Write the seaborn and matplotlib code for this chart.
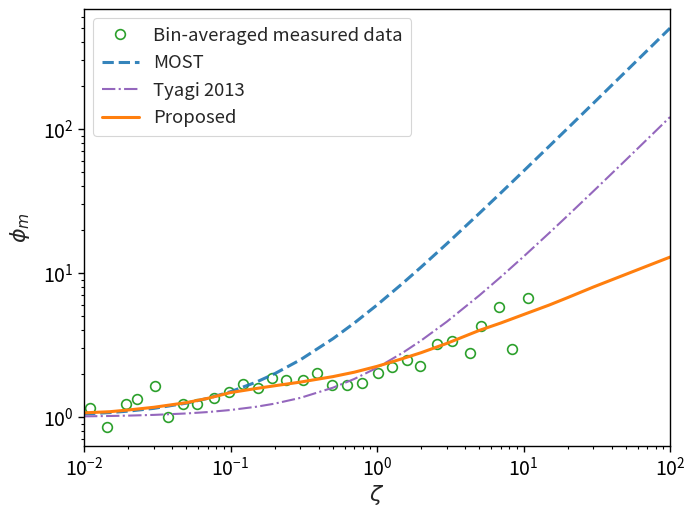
import numpy as np
import pandas as pd
import seaborn as sns
import matplotlib
matplotlib.use("Agg")
import matplotlib.pyplot as plt

# Bin-averaged measurements of the dimensionless shear phi_m against stability zeta
zeta_obs = [0.0110, 0.0144, 0.0193, 0.0229, 0.0307, 0.0374, 0.0472, 0.0593, 0.0776,
            0.0973, 0.122, 0.155, 0.193, 0.239, 0.311, 0.389, 0.493, 0.624, 0.787,
            1.01, 1.26, 1.61, 1.97, 2.55, 3.26, 4.34, 5.13, 6.77, 8.36, 10.7]
phi_obs = [1.15, 0.86, 1.23, 1.34, 1.64, 1.00, 1.23, 1.24, 1.36,
           1.50, 1.69, 1.58, 1.88, 1.82, 1.82, 2.02, 1.66, 1.66, 1.73,
           2.03, 2.24, 2.48, 2.28, 3.21, 3.35, 2.79, 4.29, 5.81, 2.96, 6.75]

# Model curves sampled along zeta
zeta_model = [0.01, 0.015, 0.02, 0.03, 0.05, 0.07, 0.1, 0.15, 0.2, 0.3, 0.5, 0.7,
              1, 1.5, 2, 3, 5, 7, 10, 15, 20, 30, 50, 70, 100]
phi_most = [1.05, 1.075, 1.1, 1.15, 1.25, 1.35, 1.5, 1.75, 2.0, 2.5, 3.5, 4.5,
            6, 8.5, 11, 16, 26, 36, 51, 76, 101, 151, 251, 351, 501]
phi_tyagi = [1.012, 1.018, 1.024, 1.036, 1.06, 1.084, 1.12, 1.18, 1.24, 1.36, 1.6, 1.84,
             2.2, 2.8, 3.4, 4.6, 7.0, 9.4, 13, 19, 25, 37, 61, 85, 121]
phi_proposed = [1.07, 1.09, 1.12, 1.17, 1.26, 1.35, 1.48, 1.58, 1.65, 1.75, 1.91, 2.05,
                2.25, 2.55, 2.8, 3.25, 4.0, 4.5, 5.15, 6.0, 6.75, 8.0, 9.8, 11.2, 12.9]

labels = ["Bin-averaged measured data", "MOST", "Tyagi 2013", "Proposed"]

sns.set_theme(style="ticks")
plt.rcParams["font.family"] = ["Noto Sans CJK SC", "DejaVu Sans"]
plt.rcParams["mathtext.fontset"] = "dejavusans"
plt.rcParams["axes.unicode_minus"] = False

fig, ax = plt.subplots(figsize=(6.87, 5.07), dpi=100)
fig.subplots_adjust(left=0.1223, right=0.9753, top=0.9822, bottom=0.1203)

obs = pd.DataFrame({"zeta": zeta_obs, "phi": phi_obs})
mod = pd.DataFrame({"zeta": zeta_model, "most": phi_most,
                    "tyagi": phi_tyagi, "proposed": phi_proposed})

sns.lineplot(data=obs, x="zeta", y="phi", ax=ax, linestyle="none", marker="o",
             markersize=7, markerfacecolor="none", markeredgecolor="#2ca02c",
             markeredgewidth=1.2, color="#2ca02c", label=labels[0])
sns.lineplot(data=mod, x="zeta", y="most", ax=ax, color="#1f77b4", alpha=0.9,
             linestyle="--", linewidth=2.2, label=labels[1])
sns.lineplot(data=mod, x="zeta", y="tyagi", ax=ax, color="#9467bd",
             linestyle="-.", linewidth=1.5, label=labels[2])
sns.lineplot(data=mod, x="zeta", y="proposed", ax=ax, color="#ff7f0e",
             linestyle="-", linewidth=2.2, label=labels[3])

ax.set_xscale("log")
ax.set_yscale("log")
ax.set_xlim(1e-2, 1e2)
ax.set_ylim(0.63, 680)

for s in ax.spines.values():
    s.set_visible(True)
    s.set_color("black")
    s.set_linewidth(1.0)

ax.tick_params(axis="both", which="major", labelsize=14, length=4, width=1,
               color="black", labelcolor="black", direction="out")
ax.tick_params(axis="both", which="minor", length=2.5, width=0.8, color="black")

ax.set_xlabel(r"$\zeta$", fontsize=16, labelpad=2)
ax.set_ylabel(r"$\phi_m$", fontsize=16, labelpad=8)

leg = ax.legend(loc="upper left", fontsize=13.3, frameon=True, labelspacing=0.52,
                handlelength=2.0, borderpad=0.45)
leg.get_frame().set_edgecolor("#cccccc")
leg.get_frame().set_linewidth(0.8)

fig.savefig("out.png", dpi=100)
